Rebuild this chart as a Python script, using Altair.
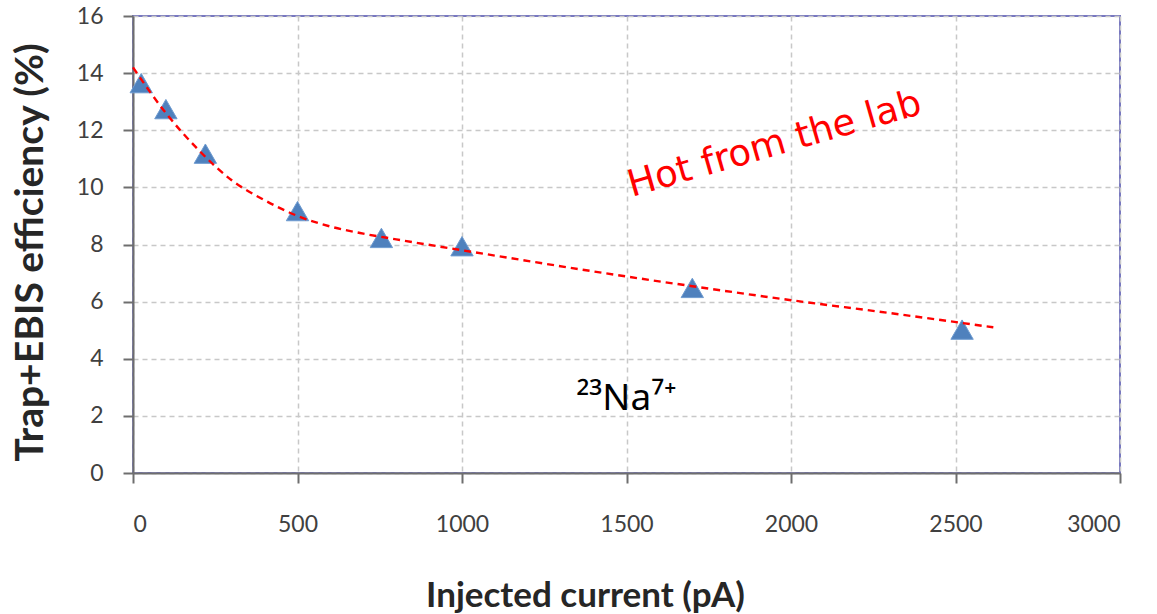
import altair as alt
import pandas as pd

# Measured trap + EBIS efficiency versus injected current
current_pa = [25, 100, 220, 500, 755, 1000, 1700, 2520]
efficiency_pct = [13.65, 12.74, 11.18, 9.17, 8.23, 7.94, 6.48, 5.02]

# Trend line through the measurements
trend_x = [0, 100, 200, 300, 400, 500, 600, 700, 800, 1000, 1500, 1700,
           2000, 2300, 2615]
trend_y = [14.2, 12.6, 11.3, 10.25, 9.55, 9.0, 8.63, 8.38, 8.18, 7.8, 6.88,
           6.54, 6.05, 5.6, 5.1]

x_ticks = [0, 500, 1000, 1500, 2000, 2500, 3000]
y_ticks = [0, 2, 4, 6, 8, 10, 12, 14, 16]

points = pd.DataFrame({"current": current_pa, "eff": efficiency_pct})
trend = pd.DataFrame({"current": trend_x, "eff": trend_y})
notes = pd.DataFrame({
    "current": [1950, 1500],
    "eff": [11.5, 2.2],
    "label": ["Hot from the lab", "²³Na⁷⁺"],
})

PLOT_W, PLOT_H = 987, 457

x_scale = alt.Scale(domain=[0, 3000], nice=False, zero=True)
y_scale = alt.Scale(domain=[0, 16], nice=False, zero=True)

axis_common = dict(
    grid=True,
    gridDash=[5, 4],
    gridColor="#c8c8c8",
    gridWidth=1.5,
    domainColor="#6e6e6e",
    domainWidth=2,
    tickColor="#6e6e6e",
    tickWidth=2,
    tickSize=10,
    format="d",
    labelFont="Lato",
    labelFontSize=23,
    labelColor="#404040",
    titleFont="Lato",
    titleFontWeight="bold",
    titleColor="#262626",
)

x_enc = alt.X(
    "current:Q",
    scale=x_scale,
    axis=alt.Axis(
        values=x_ticks,
        title="Injected current (pA)",
        titleFontSize=35,
        labelPadding=30,
        titleX=452,
        titleY=133,
        titleAlign="center",
        titleBaseline="alphabetic",
        **axis_common,
    ),
)
y_enc = alt.Y(
    "eff:Q",
    scale=y_scale,
    axis=alt.Axis(
        values=y_ticks,
        title="Trap+EBIS efficiency (%)",
        titleFontSize=39,
        labelPadding=20,
        titleX=-103,
        titleY=236,
        titleAngle=270,
        titleAlign="center",
        titleBaseline="middle",
        **axis_common,
    ),
)

markers = alt.Chart(points).mark_point(
    shape="triangle-up", filled=True, size=500, color="#4f81bd", opacity=1,
    stroke="#6e9bd0", strokeWidth=1,
).encode(x=x_enc, y=y_enc)

trend_line = alt.Chart(trend).mark_line(
    color="#ff0000", strokeWidth=2.4, strokeDash=[7, 5], interpolate="monotone"
).encode(x="current:Q", y="eff:Q")

hot_note = alt.Chart(notes.iloc[[0]]).mark_text(
    font="DejaVu Sans", fontSize=37, color="#ff0000", angle=344,
    align="center", baseline="middle",
).encode(x="current:Q", y="eff:Q", text="label:N")

ion_note = alt.Chart(notes.iloc[[1]]).mark_text(
    font="Noto Sans", fontSize=37, color="#000000",
    align="center", baseline="alphabetic",
).encode(x="current:Q", y="eff:Q", text="label:N")

chart = (
    alt.layer(markers, trend_line, hot_note, ion_note)
    .properties(
        width=PLOT_W,
        height=PLOT_H,
        autosize=alt.AutoSizeParams(type="none"),
        padding={"left": 133, "top": 16, "right": 37, "bottom": 141},
        background="#ffffff",
    )
    .configure_view(stroke="#7878c0", strokeWidth=2)
)

chart.save("out.html", embed_options={"renderer": "svg", "actions": False})
